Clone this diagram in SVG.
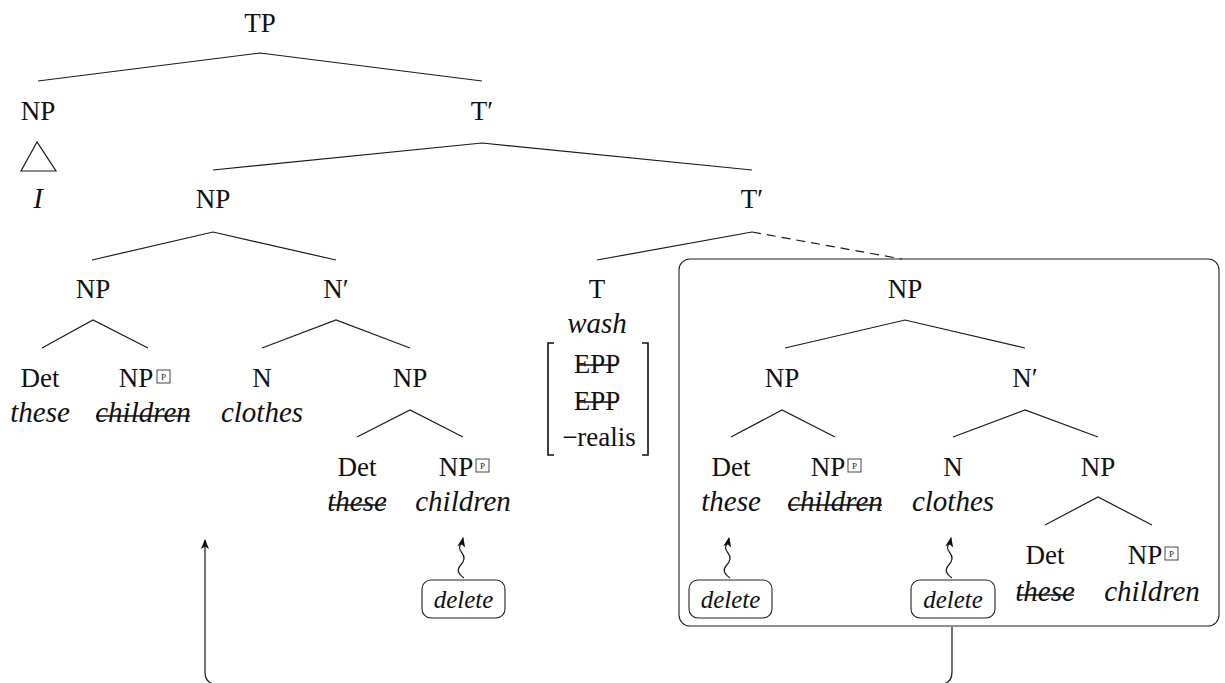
<svg xmlns="http://www.w3.org/2000/svg" width="1225" height="683" viewBox="0 0 1225 683" font-family="Liberation Serif">
  <style>
    svg text, text.lab, text.it, text.del, text.tiny { font-family: "Liberation Serif", "Times New Roman", serif !important; }
    .lab { font-size: 27px; text-anchor: middle; fill: #111; }
    .it { font-size: 29px; font-style: italic; text-anchor: middle; fill: #111; }
    .del { font-size: 25px; font-style: italic; text-anchor: middle; fill: #111; }
    .tiny { font-size: 9px; text-anchor: middle; fill: #222; }
    .edge { stroke: #1a1a1a; stroke-width: 1.2; fill: none; }
    .dash { stroke: #1a1a1a; stroke-width: 1.2; fill: none; stroke-dasharray: 9 6; }
    .strike { stroke: #111; stroke-width: 1.4; }
    .box { fill: none; stroke: #222; stroke-width: 1.1; }
    .pbox { fill: #fff; stroke: #333; stroke-width: 0.9; }
    .brk { stroke: #111; stroke-width: 1.6; fill: none; }
  </style>
  <defs>
    <marker id="tip" viewBox="0 0 10 8" refX="9" refY="4" markerWidth="10" markerHeight="8" markerUnits="userSpaceOnUse" orient="auto">
      <path d="M0,0 L10,4 L0,8 L2.5,4 Z" fill="#111"/>
    </marker>
  </defs>

  <!-- tree branches, delete arrows and the movement path -->
  <g id="connectors">
    <polyline class="edge" points="38,81 260,53 482,81"/>
    <polyline class="edge" points="213,170 482,143 752,170"/>
    <polyline class="edge" points="92,260 213,232 336,260"/>
    <polyline class="edge" points="597,260 752,232"/>
    <line class="dash" x1="752" y1="232" x2="902" y2="259"/>
    <polyline class="edge" points="42,348 93,320 148,348"/>
    <polyline class="edge" points="262,348 336,320 410,348"/>
    <polyline class="edge" points="357,437 410,410 463,437"/>
    <polyline class="edge" points="785,348 905,320 1025,348"/>
    <polyline class="edge" points="731,437 782,410 835,437"/>
    <polyline class="edge" points="953,437 1025,410 1098,437"/>
    <polyline class="edge" points="1045,525 1098,497 1152,525"/>
    <polygon class="edge" points="37,142 21,171 56,171"/>
    <path class="edge" marker-end="url(#tip)" d="M464,578 Q455,572 460,566 Q467,559 462,553 Q457,547 462,543 L463,538"/>
    <path class="edge" marker-end="url(#tip)" d="M730,578 Q721,572 726,566 Q733,559 728,553 Q723,547 728,543 L729,538"/>
    <path class="edge" marker-end="url(#tip)" d="M952,578 Q943,572 948,566 Q955,559 950,553 Q945,547 950,543 L951,538"/>
    <path class="edge" marker-end="url(#tip)" d="M952,627 L952,672 Q952,683 942,684 L215,684 Q205,683 205,672 L205,540"/>
  </g>

  <g id="n-tp"><text class="lab" font-family="Liberation Serif" x="260" y="32">TP</text></g>
  <g id="n-np-subj">
    <text class="lab" font-family="Liberation Serif" x="38" y="120">NP</text>
    <text class="it" font-family="Liberation Serif" x="38" y="208">I</text>
  </g>
  <g id="n-tbar1"><text class="lab" font-family="Liberation Serif" x="482" y="120">T′</text></g>
  <g id="n-np-obj"><text class="lab" font-family="Liberation Serif" x="213" y="208">NP</text></g>
  <g id="n-tbar2"><text class="lab" font-family="Liberation Serif" x="752" y="208">T′</text></g>
  <g id="n-np-a"><text class="lab" font-family="Liberation Serif" x="93" y="298">NP</text></g>
  <g id="n-nbar-a"><text class="lab" font-family="Liberation Serif" x="336" y="298">N′</text></g>

  <g id="n-det-a">
    <text class="lab" font-family="Liberation Serif" x="40" y="387">Det</text>
    <text class="it" font-family="Liberation Serif" x="40" y="422">these</text>
  </g>
  <g id="n-npp-a">
    <text class="lab" font-family="Liberation Serif" x="136" y="387">NP</text>
    <rect class="pbox" x="157" y="370" width="13" height="13"/>
    <text class="tiny" font-family="Liberation Serif" x="163.5" y="380">P</text>
    <text class="it" font-family="Liberation Serif" x="143" y="422">children</text>
    <line class="strike" x1="96" y1="416" x2="190" y2="416"/>
  </g>
  <g id="n-n-a">
    <text class="lab" font-family="Liberation Serif" x="262" y="387">N</text>
    <text class="it" font-family="Liberation Serif" x="262" y="422">clothes</text>
  </g>
  <g id="n-np-b"><text class="lab" font-family="Liberation Serif" x="410" y="387">NP</text></g>
  <g id="n-det-b">
    <text class="lab" font-family="Liberation Serif" x="357" y="476">Det</text>
    <text class="it" font-family="Liberation Serif" x="357" y="511">these</text>
    <line class="strike" x1="329" y1="505" x2="386" y2="505"/>
  </g>
  <g id="n-npp-b">
    <text class="lab" font-family="Liberation Serif" x="456" y="476">NP</text>
    <rect class="pbox" x="476" y="459" width="13" height="13"/>
    <text class="tiny" font-family="Liberation Serif" x="482.5" y="469">P</text>
    <text class="it" font-family="Liberation Serif" x="463" y="511">children</text>
  </g>
  <g id="n-del-b">
    <rect class="box" x="422" y="580" width="83" height="38" rx="9"/>
    <text class="del" font-family="Liberation Serif" x="463.5" y="608">delete</text>
  </g>

  <g id="n-t">
    <text class="lab" font-family="Liberation Serif" x="597" y="298">T</text>
    <text class="it" font-family="Liberation Serif" x="597" y="333">wash</text>
    <path class="brk" d="M554,343 L548,343 L548,455 L554,455"/>
    <path class="brk" d="M642,343 L648,343 L648,455 L642,455"/>
    <text class="lab" font-family="Liberation Serif" x="597" y="373">EPP</text>
    <line class="strike" x1="577" y1="365" x2="617" y2="365"/>
    <text class="lab" font-family="Liberation Serif" x="597" y="410">EPP</text>
    <line class="strike" x1="577" y1="402" x2="617" y2="402"/>
    <text class="lab" font-family="Liberation Serif" x="599" y="446">−realis</text>
  </g>

  <!-- boxed copy of the object NP -->
  <g id="n-np-box">
    <rect class="box" x="679" y="259" width="540" height="367" rx="11"/>
    <text class="lab" font-family="Liberation Serif" x="905" y="298">NP</text>
  </g>
  <g id="n-np-c"><text class="lab" font-family="Liberation Serif" x="782" y="387">NP</text></g>
  <g id="n-nbar-c"><text class="lab" font-family="Liberation Serif" x="1025" y="387">N′</text></g>
  <g id="n-det-c">
    <text class="lab" font-family="Liberation Serif" x="731" y="476">Det</text>
    <text class="it" font-family="Liberation Serif" x="731" y="511">these</text>
  </g>
  <g id="n-npp-c">
    <text class="lab" font-family="Liberation Serif" x="828" y="476">NP</text>
    <rect class="pbox" x="848" y="459" width="13" height="13"/>
    <text class="tiny" font-family="Liberation Serif" x="854.5" y="469">P</text>
    <text class="it" font-family="Liberation Serif" x="835" y="511">children</text>
    <line class="strike" x1="788" y1="505" x2="882" y2="505"/>
  </g>
  <g id="n-n-c">
    <text class="lab" font-family="Liberation Serif" x="953" y="476">N</text>
    <text class="it" font-family="Liberation Serif" x="953" y="511">clothes</text>
  </g>
  <g id="n-np-d"><text class="lab" font-family="Liberation Serif" x="1098" y="476">NP</text></g>
  <g id="n-det-d">
    <text class="lab" font-family="Liberation Serif" x="1045" y="564">Det</text>
    <text class="it" font-family="Liberation Serif" x="1045" y="601">these</text>
    <line class="strike" x1="1017" y1="595" x2="1074" y2="595"/>
  </g>
  <g id="n-npp-d">
    <text class="lab" font-family="Liberation Serif" x="1145" y="564">NP</text>
    <rect class="pbox" x="1165" y="547" width="13" height="13"/>
    <text class="tiny" font-family="Liberation Serif" x="1171.5" y="557">P</text>
    <text class="it" font-family="Liberation Serif" x="1152" y="601">children</text>
  </g>
  <g id="n-del-c">
    <rect class="box" x="689" y="580" width="83" height="38" rx="9"/>
    <text class="del" font-family="Liberation Serif" x="730.5" y="608">delete</text>
  </g>
  <g id="n-del-d">
    <rect class="box" x="911" y="580" width="84" height="38" rx="9"/>
    <text class="del" font-family="Liberation Serif" x="953" y="608">delete</text>
  </g>
</svg>
